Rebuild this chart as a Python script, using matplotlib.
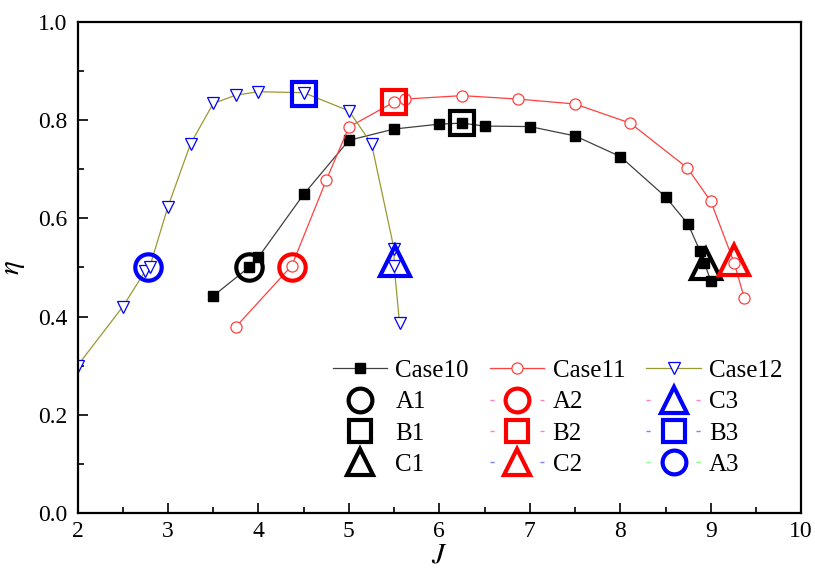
import matplotlib.pyplot as plt
from matplotlib.lines import Line2D
from matplotlib.ticker import MultipleLocator

plt.rcParams['font.family'] = ['Liberation Serif', 'DejaVu Serif']
plt.rcParams['mathtext.fontset'] = 'stix'

## Data
j10 = [3.5, 3.9, 4.0, 4.5, 5.0, 5.5, 6.0, 6.25, 6.5, 7.0, 7.5, 8.0, 8.5, 8.75, 8.88, 8.93, 9.0]
eta10 = [0.442, 0.501, 0.521, 0.649, 0.759, 0.782, 0.792, 0.794, 0.788, 0.787, 0.768, 0.726, 0.644, 0.588, 0.534, 0.509, 0.473]

j11 = [3.75, 4.37, 4.75, 5.0, 5.5, 5.62, 6.25, 6.87, 7.5, 8.11, 8.74, 9.0, 9.26, 9.37]
eta11 = [0.379, 0.504, 0.678, 0.786, 0.837, 0.843, 0.850, 0.843, 0.833, 0.794, 0.703, 0.635, 0.509, 0.438]

j12 = [2.0, 2.5, 2.75, 2.8, 3.0, 3.25, 3.5, 3.75, 4.0, 4.5, 5.0, 5.25, 5.5, 5.5, 5.56]
eta12 = [0.300, 0.420, 0.493, 0.502, 0.624, 0.752, 0.834, 0.851, 0.858, 0.856, 0.819, 0.752, 0.537, 0.503, 0.386]

# operating points: name, J, eta, marker, colour
pt_names = ['A1', 'B1', 'C1', 'A2', 'B2', 'C2', 'C3', 'B3', 'A3']
pt_j = [3.9, 6.25, 8.95, 4.37, 5.5, 9.26, 5.51, 4.5, 2.78]
pt_eta = [0.50, 0.794, 0.507, 0.50, 0.837, 0.515, 0.513, 0.853, 0.50]
pt_marker = ['o', 's', '^', 'o', 's', '^', '^', 's', 'o']
pt_color = ['black', 'black', 'black', 'red', 'red', 'red', 'blue', 'blue', 'blue']
# the faint dashes Origin drew in the legend
pt_dash = [None, None, None, '#ff80c0', '#ff80c0', '#8080ff', '#ff80c0', '#8080ff', '#80ff80']

fig = plt.figure(figsize=(8.15, 5.71), dpi=100)
ax = fig.add_axes([0.0951, 0.1016, 0.888, 0.8599])

l10, = ax.plot(j10, eta10, color='#404040', lw=0.9, marker='s', ms=7,
               mfc='black', mec='black')
l11, = ax.plot(j11, eta11, color='#ff4040', lw=0.9, marker='o', ms=8,
               mfc='white', mec='#ff4040', mew=0.9)
l12, = ax.plot(j12, eta12, color='#999933', lw=0.9, marker='v', ms=8,
               mfc='white', mec='blue', mew=0.9)

sizes = {'o': 19, 's': 17, '^': 21}
handles = {}
for name, x, y, m, c, d in zip(pt_names, pt_j, pt_eta, pt_marker, pt_color, pt_dash):
    ax.plot([x], [y], ls='none', marker=m, ms=sizes[m], mfc='none', mec=c, mew=3)
    if d is None:
        handles[name] = Line2D([], [], ls='none', marker=m, ms=sizes[m] * 0.9,
                               mfc='none', mec=c, mew=3)
    else:
        handles[name] = Line2D([], [], color=d, lw=1, ls=(0, (3, 33)), marker=m,
                               ms=sizes[m] * 0.9, mfc='none', mec=c, mew=3)

## Config the graph
ax.set_xlim(2, 10)
ax.set_ylim(0, 1.0)
ax.xaxis.set_major_locator(MultipleLocator(1))
ax.xaxis.set_minor_locator(MultipleLocator(0.5))
ax.yaxis.set_major_locator(MultipleLocator(0.2))
ax.yaxis.set_minor_locator(MultipleLocator(0.1))
ax.yaxis.set_major_formatter(plt.FormatStrFormatter('%.1f'))
ax.tick_params(which='both', direction='in', labelsize=17, width=1.2)
ax.tick_params(which='major', length=7)
ax.tick_params(which='minor', length=4)
ax.tick_params(axis='y', pad=7)
ax.tick_params(axis='x', pad=6)
for s in ax.spines.values():
    s.set_linewidth(1.6)
ax.set_xlabel('$J$', fontsize=21, labelpad=0)
ax.set_ylabel('$\\eta$', fontsize=21, labelpad=8)

order = [l10, handles['A1'], handles['B1'], handles['C1'],
         l11, handles['A2'], handles['B2'], handles['C2'],
         l12, handles['C3'], handles['B3'], handles['A3']]
labels = ['Case10', 'A1', 'B1', 'C1', 'Case11', 'A2', 'B2', 'C2',
          'Case12', 'C3', 'B3', 'A3']
ax.legend(order, labels, ncol=3, frameon=False, fontsize=18, loc='lower left',
          bbox_to_anchor=(0.339, 0.055), handlelength=2.17, handletextpad=0.33,
          columnspacing=0.85, labelspacing=0.35, borderaxespad=0)

fig.savefig('out.png', dpi=100)
